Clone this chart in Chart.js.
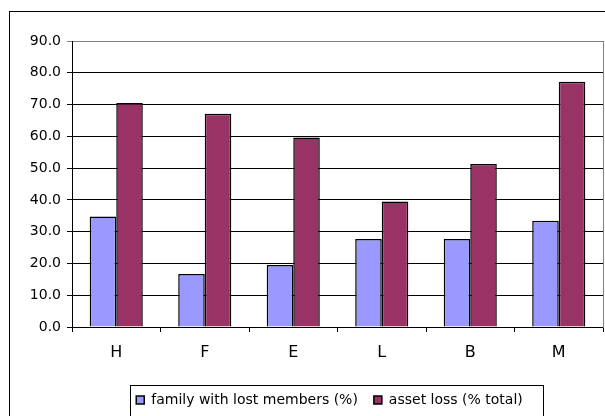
<!DOCTYPE html>
<html lang="en">
<head>
    <meta charset="UTF-8">
    <title>Family and asset loss</title>
    <script src="https://cdn.jsdelivr.net/npm/chart.js"></script>
    <style>
        html, body {
            margin: 0;
            padding: 0;
            background: #ffffff;
            overflow: hidden;
            width: 605px;
            height: 416px;
        }
        .frame {
            position: absolute;
            left: 9px;
            top: 11px;
            width: 653px;
            height: 420px;
            border: 1px solid #000;
        }
    </style>
</head>
<body>

<div class="frame">
    <canvas id="lossChart" width="653" height="420"></canvas>
</div>

<script>
    // Values
    const categories = ['H', 'F', 'E', 'L', 'B', 'M'];
    const familyLost = [34.8, 16.7, 19.5, 27.7, 27.7, 33.4];
    const assetLoss = [70.5, 67.1, 59.6, 39.5, 51.3, 77.2];
    const seriesNames = ['family with lost members (%)', 'asset loss (% total)'];

    Chart.defaults.font.family = 'DejaVu Sans';
    Chart.defaults.color = '#000';

    // draws the thin frame round the legend
    const legendFrame = {
        id: 'legendFrame',
        afterDraw(chart) {
            const boxes = chart.legend.legendHitBoxes;
            if (!boxes || !boxes.length) return;
            const first = boxes[0];
            const last = boxes[boxes.length - 1];
            const ctx = chart.ctx;
            ctx.save();
            ctx.strokeStyle = '#000';
            ctx.lineWidth = 1;
            const left = Math.round(first.left - 6) + 0.5;
            const right = Math.round(last.left + last.width + 20) + 0.5;
            const top = Math.round(first.top - 8) + 0.5;
            ctx.strokeRect(left, top, right - left, chart.height + 10 - top);
            ctx.restore();
        }
    };

    new Chart(document.getElementById('lossChart'), {
        type: 'bar',
        data: {
            labels: categories,
            datasets: [{
                label: seriesNames[0],
                data: familyLost,
                backgroundColor: '#9999FF',
                borderColor: '#000',
                borderWidth: 1.5,
                categoryPercentage: 0.6,
                barPercentage: 1.0
            }, {
                label: seriesNames[1],
                data: assetLoss,
                backgroundColor: '#993366',
                borderColor: '#000',
                borderWidth: 1.5,
                categoryPercentage: 0.6,
                barPercentage: 1.0
            }]
        },
        options: {
            responsive: false,
            animation: false,
            layout: {
                padding: { left: 0, right: 14, top: 29, bottom: 15 }
            },
            plugins: {
                tooltip: { enabled: false },
                legend: {
                    position: 'bottom',
                    labels: {
                        boxWidth: 8,
                        boxHeight: 8,
                        padding: 16,
                        font: { size: 14 }
                    }
                }
            },
            scales: {
                x: {
                    grid: {
                        offset: true,
                        drawOnChartArea: false,
                        tickLength: 5,
                        color: '#000'
                    },
                    border: { color: '#000', width: 1 },
                    ticks: {
                        padding: 11,
                        font: { size: 16 }
                    },
                    afterFit(scale) {
                        scale.height = 50;
                    }
                },
                y: {
                    min: 0,
                    max: 90,
                    ticks: {
                        stepSize: 10,
                        padding: 6,
                        font: { size: 14 },
                        callback: v => v.toFixed(1)
                    },
                    grid: {
                        tickLength: 5,
                        color: ctx => (ctx.tick && ctx.tick.value === 90) ? '#808080' : '#000'
                    },
                    border: { color: '#000', width: 1 },
                    afterFit(scale) {
                        scale.width = 62;
                    }
                },
                // empty right axis: gives the grey right edge of the plot area
                y2: {
                    position: 'right',
                    min: 0,
                    max: 90,
                    ticks: { display: false },
                    grid: { drawOnChartArea: false, drawTicks: false },
                    border: { color: '#808080', width: 1 },
                    afterFit(scale) {
                        scale.width = 46;
                    }
                }
            }
        },
        plugins: [legendFrame]
    });
</script>

</body>
</html>
